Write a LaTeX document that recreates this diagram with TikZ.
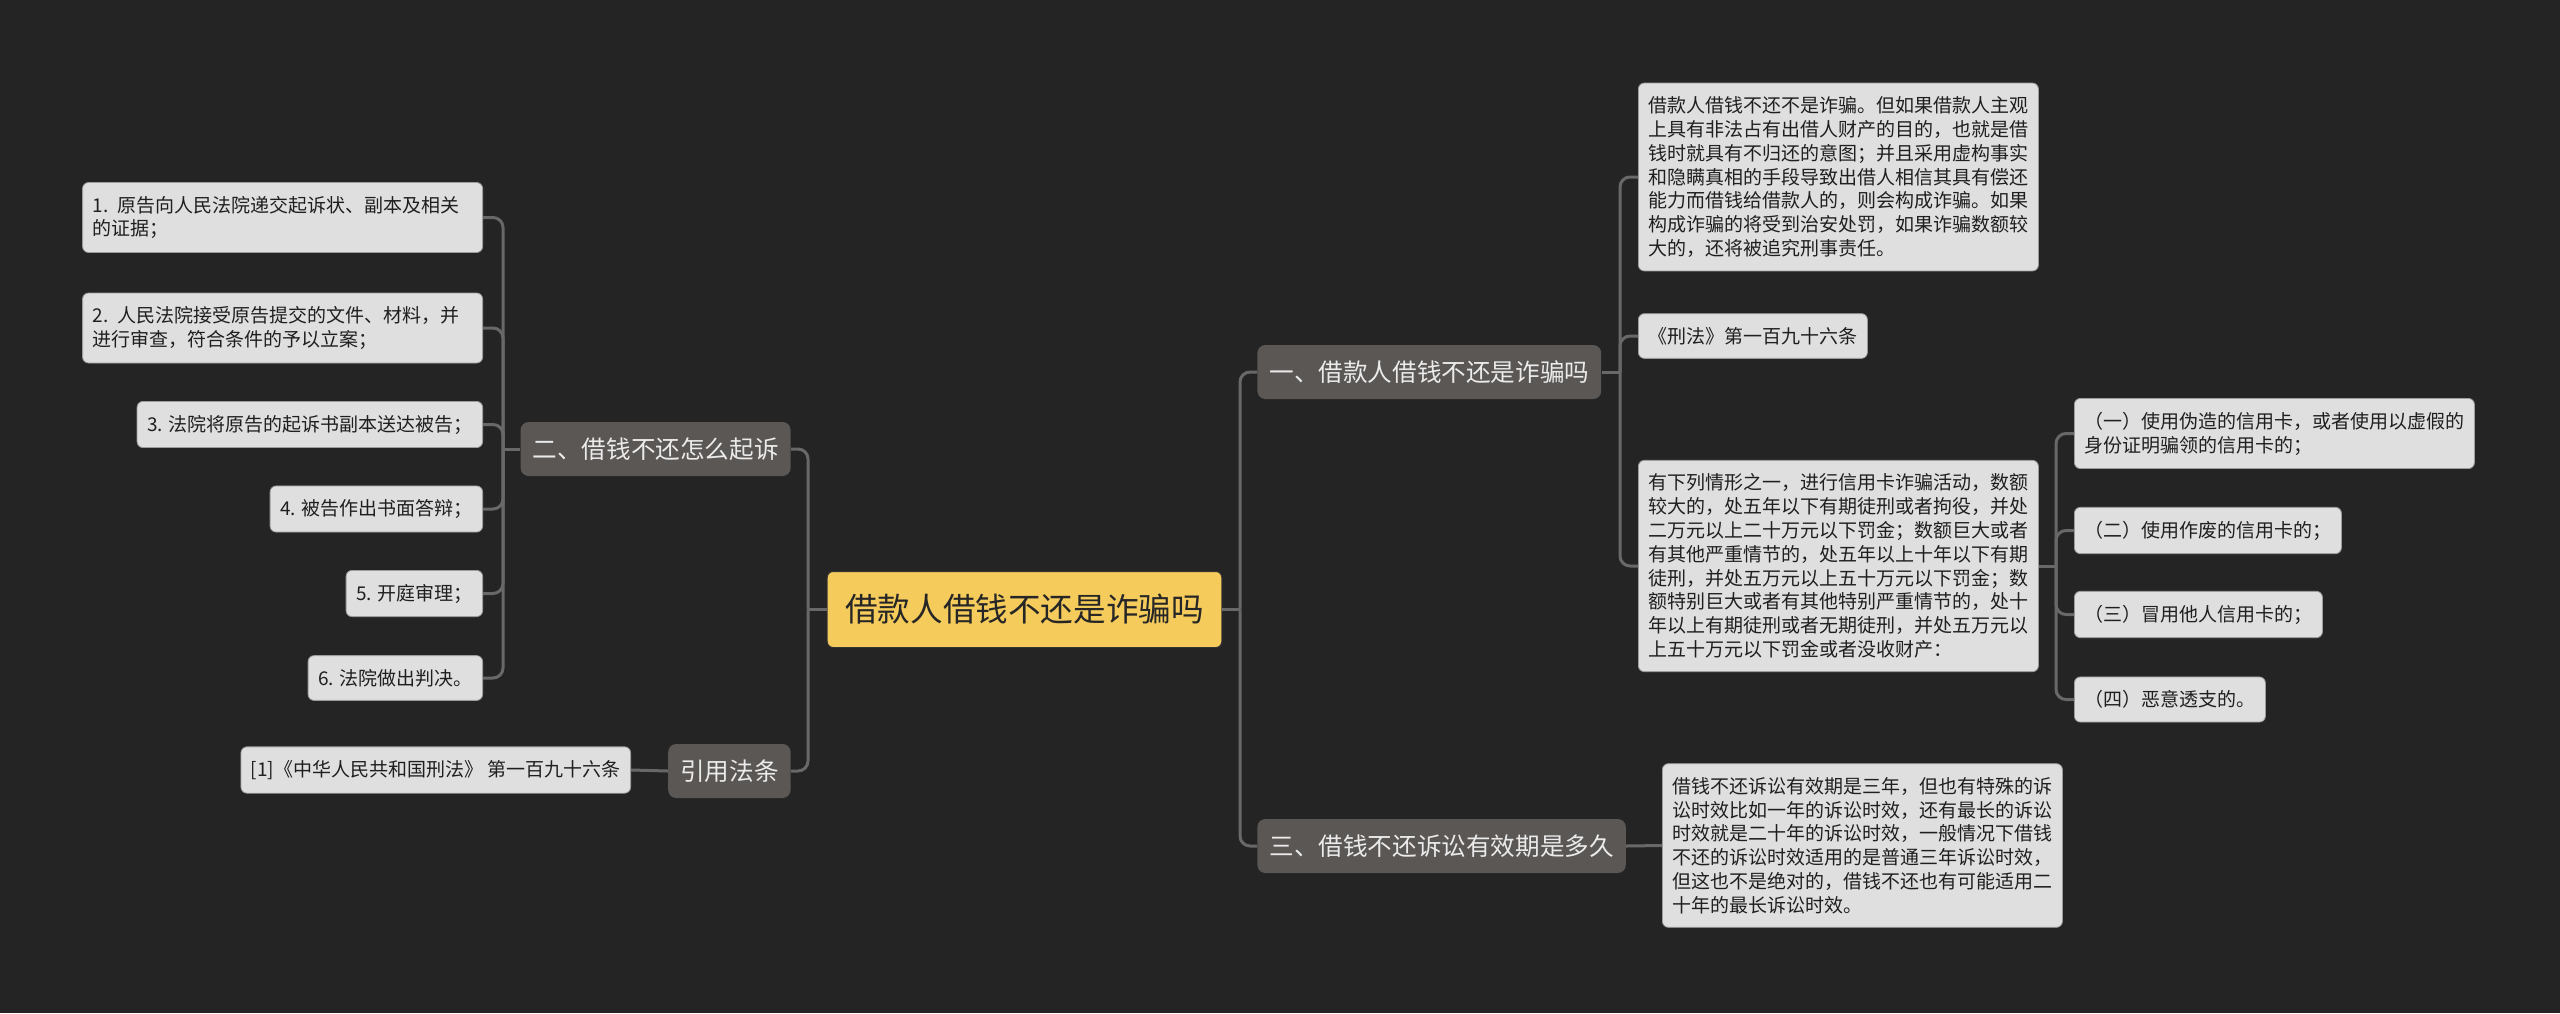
\documentclass[tikz,border=0pt]{standalone}
\usepackage{fontspec}
\setmainfont{Noto Sans CJK SC}
\usepackage{xcolor}
\usepackage{tikz}
\usetikzlibrary{positioning}

\definecolor{bgdark}{HTML}{242424}
\definecolor{linegray}{HTML}{686868}
\definecolor{leafgray}{HTML}{DFDFDF}
\definecolor{leafborder}{HTML}{9C9C9C}
\definecolor{branchgray}{HTML}{5A5755}
\definecolor{rootyellow}{HTML}{F5CB5C}

\begin{document}
\begin{tikzpicture}[x=0.5pt, y=-0.5pt]
        % Style definitions
        \tikzset{
            root/.style={draw=black!80, fill=rootyellow, rounded corners=3pt, line width=0.5pt, minimum height=38pt, inner xsep=9pt, font=\fontsize{16.3}{19}\selectfont, text=black!85},
            branch/.style={fill=branchgray, rounded corners=4pt, minimum height=27pt, inner xsep=6pt, font=\fontsize{12.3}{15}\selectfont, text=white!92!black},
            leaf/.style={draw=leafborder, fill=leafgray, rounded corners=3pt, line width=0.4pt, inner xsep=5pt, inner ysep=6.75pt, align=left, font=\fontsize{9.5}{11.9}\selectfont, text=black!88},
            wide/.style={text width=190pt},
            link/.style={draw=linegray, line width=1.5pt, rounded corners=5pt}
        }

        % Background
        \fill [bgdark] (0,0) rectangle (2560,1013);

        % Root
        \node [root] (root) at (1024.5,609.5) {借款人借钱不还是诈骗吗};

        % Branches
        \node [branch, anchor=west] (b1) at (1257,372) {一、借款人借钱不还是诈骗吗};
        \node [branch, anchor=west] (b3) at (1257,846) {三、借钱不还诉讼有效期是多久};
        \node [branch, anchor=east] (b2) at (791,449) {二、借钱不还怎么起诉};
        \node [branch, anchor=east] (bref) at (791,771) {引用法条};

        % Junction points
        \coordinate (jR) at (1240,609.5);
        \coordinate (jL) at (808,609.5);
        \coordinate (j1) at (1620,372);
        \coordinate (jcard) at (2056,566);
        \coordinate (j2) at (503,449);

        % Branch one
        \node [leaf, wide, anchor=west] (fraud) at (1638,177) {借款人借钱不还不是诈骗。但如果借款人主观\\上具有非法占有出借人财产的目的，也就是借\\钱时就具有不归还的意图；并且采用虚构事实\\和隐瞒真相的手段导致出借人相信其具有偿还\\能力而借钱给借款人的，则会构成诈骗。如果\\构成诈骗的将受到治安处罚，如果诈骗数额较\\大的，还将被追究刑事责任。};
        \node [leaf, anchor=west] (law) at (1638,336) {《刑法》第一百九十六条};
        \node [leaf, wide, anchor=west] (card) at (1638,566) {有下列情形之一，进行信用卡诈骗活动，数额\\较大的，处五年以下有期徒刑或者拘役，并处\\二万元以上二十万元以下罚金；数额巨大或者\\有其他严重情节的，处五年以上十年以下有期\\徒刑，并处五万元以上五十万元以下罚金；数\\额特别巨大或者有其他特别严重情节的，处十\\年以上有期徒刑或者无期徒刑，并处五万元以\\上五十万元以下罚金或者没收财产：};

        % Credit card cases
        \node [leaf, wide, anchor=west] (case1) at (2074,433.5) {（一）使用伪造的信用卡，或者使用以虚假的\\身份证明骗领的信用卡的；};
        \node [leaf, anchor=west] (case2) at (2074,530.5) {（二）使用作废的信用卡的；};
        \node [leaf, anchor=west] (case3) at (2074,614.5) {（三）冒用他人信用卡的；};
        \node [leaf, anchor=west] (case4) at (2074,699.5) {（四）恶意透支的。};

        % Branch three
        \node [leaf, wide, anchor=west] (term) at (1662,845.5) {借钱不还诉讼有效期是三年，但也有特殊的诉\\讼时效比如一年的诉讼时效，还有最长的诉讼\\时效就是二十年的诉讼时效，一般情况下借钱\\不还的诉讼时效适用的是普通三年诉讼时效，\\但这也不是绝对的，借钱不还也有可能适用二\\十年的最长诉讼时效。};

        % Branch two
        \node [leaf, wide, anchor=east] (step1) at (483,217.5) {1. 原告向人民法院递交起诉状、副本及相关\\的证据；};
        \node [leaf, wide, anchor=east] (step2) at (483,328) {2. 人民法院接受原告提交的文件、材料，并\\进行审查，符合条件的予以立案；};
        \node [leaf, anchor=east] (step3) at (483,424.5) {3. 法院将原告的起诉书副本送达被告；};
        \node [leaf, anchor=east] (step4) at (483,509) {4. 被告作出书面答辩；};
        \node [leaf, anchor=east] (step5) at (483,593.5) {5. 开庭审理；};
        \node [leaf, anchor=east] (step6) at (483,678) {6. 法院做出判决。};

        % Cited law
        \node [leaf, anchor=east] (cite) at (631,770) {[1]《中华人民共和国刑法》 第一百九十六条};

        % Connections
        % Root to branches
        \draw [link] (root.east) -- (jR);
        \draw [link] (jR) |- (b1.west);
        \draw [link] (jR) |- (b3.west);
        \draw [link] (root.west) -- (jL);
        \draw [link] (jL) |- (b2.east);
        \draw [link] (jL) |- (bref.east);

        % Branch one to its leaves
        \draw [link] (b1.east) -- (j1);
        \draw [link] (j1) |- (fraud.west);
        \draw [link] (j1) |- (law.west);
        \draw [link] (j1) |- (card.west);

        % Card to cases
        \draw [link] (card.east) -- (jcard);
        \foreach \c in {case1,case2,case3,case4}
            \draw [link] (jcard) |- (\c.west);

        % Branch three
        \draw [link] (b3.east) -- (term.west);

        % Branch two to steps
        \draw [link] (b2.west) -- (j2);
        \foreach \s in {step1,step2,step3,step4,step5,step6}
            \draw [link] (j2) |- (\s.east);

        % Cited law
        \draw [link] (bref.west) -- (cite.east);
    \end{tikzpicture}
\end{document}
